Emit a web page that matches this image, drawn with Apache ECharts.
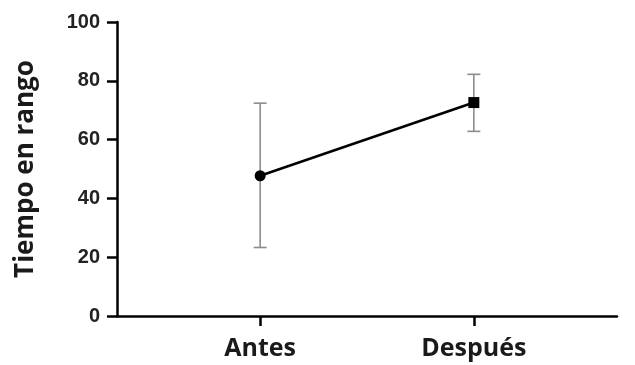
<!DOCTYPE html>
<html><head><meta charset="utf-8">
<script src="https://cdn.jsdelivr.net/npm/echarts@6/dist/echarts.min.js"></script>
<style>html,body{margin:0;padding:0;background:#fff}#c{width:635px;height:365px}</style>
</head><body><div id="c"></div>
<script>
var categories = ['Antes', 'Después'];
var means = [47.7, 72.6];
var lowers = [23.3, 62.8];
var uppers = [72.4, 82.2];
var symbols = ['circle', 'rect'];
var yTicks = [0, 20, 40, 60, 80, 100];

var positions = categories.map(function (c, i) { return i + 1; });
var chart = echarts.init(document.getElementById('c'));
chart.setOption({
  animation: false,
  backgroundColor: '#fff',
  grid: { left: 117, right: 18, top: 22, bottom: 49 },
  xAxis: {
    type: 'value', min: 0.33, max: 2.67,
    splitLine: { show: false },
    axisLine: { lineStyle: { color: '#000', width: 2.5 } },
    axisTick: { show: true, length: 10, lineStyle: { color: '#000', width: 2.5 }, customValues: positions },
    axisLabel: {
      customValues: positions, margin: 20,
      formatter: function (v) { return categories[Math.round(v) - 1] || ''; },
      fontFamily: 'Open Sans', fontWeight: 'bold', fontSize: 25, color: '#1a1a1a'
    }
  },
  yAxis: {
    type: 'value', min: 0, max: 100, interval: 20,
    name: 'Tiempo en rango', nameLocation: 'middle', nameGap: 78,
    nameTextStyle: { fontFamily: 'Open Sans', fontWeight: 'bold', fontSize: 26, color: '#1a1a1a' },
    splitLine: { show: false },
    axisLine: { show: true, lineStyle: { color: '#000', width: 2.5 } },
    axisTick: { show: true, length: 10, lineStyle: { color: '#000', width: 2.5 } },
    axisLabel: {
      margin: 17, fontFamily: 'Liberation Sans', fontWeight: 'bold', fontSize: 20, color: '#222',
      formatter: function (v) { return yTicks.indexOf(v) >= 0 ? String(v) : ''; }
    }
  },
  series: [
    {
      type: 'custom',
      z: 1,
      data: positions.map(function (p, i) { return [p, lowers[i], uppers[i]]; }),
      renderItem: function (params, api) {
        var lo = api.coord([api.value(0), api.value(1)]);
        var hi = api.coord([api.value(0), api.value(2)]);
        var w = 6.5;
        var st = { stroke: '#8c8c8c', lineWidth: 1.6 };
        return { type: 'group', children: [
          { type: 'line', shape: { x1: lo[0], y1: lo[1], x2: hi[0], y2: hi[1] }, style: st },
          { type: 'line', shape: { x1: lo[0] - w, y1: lo[1], x2: lo[0] + w, y2: lo[1] }, style: st },
          { type: 'line', shape: { x1: hi[0] - w, y1: hi[1], x2: hi[0] + w, y2: hi[1] }, style: st }
        ]};
      }
    },
    {
      type: 'line',
      z: 2,
      data: positions.map(function (p, i) { return { value: [p, means[i]], symbol: symbols[i] }; }),
      symbolSize: 11,
      lineStyle: { color: '#000', width: 2.5 },
      itemStyle: { color: '#000' }
    }
  ]
});
</script></body></html>
